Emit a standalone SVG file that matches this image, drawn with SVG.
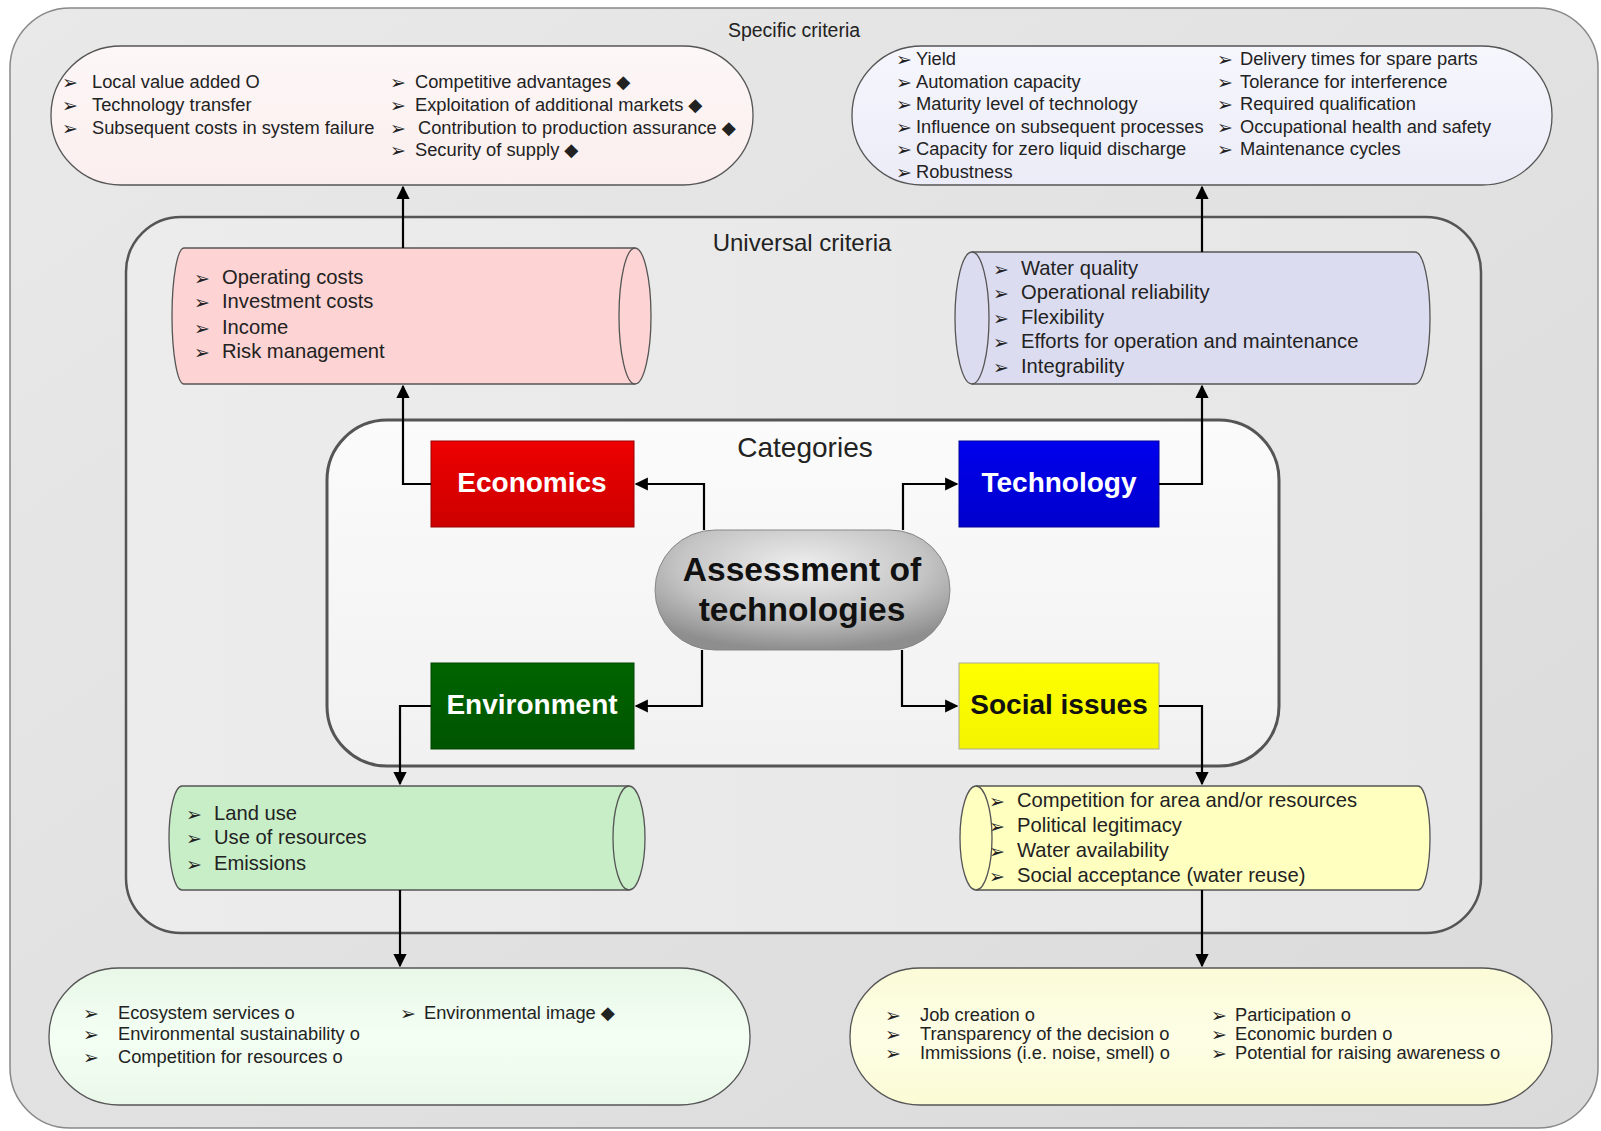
<svg xmlns="http://www.w3.org/2000/svg" width="1601" height="1131" viewBox="0 0 1601 1131">
<defs>
<style>
.t{font-family:"Liberation Sans",Arial,"DejaVu Sans",sans-serif;fill:#222}
.s{font-size:18.3px}
.u{font-size:20.2px}
.b{font-family:"DejaVu Sans",sans-serif;font-size:19px;fill:#222}
.cat{font-family:"Liberation Sans",Arial,sans-serif;font-weight:bold;font-size:28px;text-anchor:middle}
.big{font-size:33.5px}
.edge{fill:none;stroke:#000;stroke-width:2.2;marker-end:url(#ah)}
.box{stroke:#555;stroke-width:1.3}
</style>
<marker id="ah" viewBox="0 0 10 10" refX="9" refY="5" markerWidth="6" markerHeight="6" orient="auto" markerUnits="strokeWidth">
<path d="M0,0 L10,5 L0,10 z" fill="#000"/>
</marker>
<linearGradient id="gOuter" x1="0" y1="0" x2="1" y2="1"><stop offset="0" stop-color="#e9e9e9"/><stop offset="1" stop-color="#dadada"/></linearGradient>
<linearGradient id="gUni" x1="0" y1="0" x2="1" y2="0"><stop offset="0" stop-color="#ececec"/><stop offset="1" stop-color="#e6e6e6"/></linearGradient>
<linearGradient id="gCat" x1="0" y1="0" x2="0" y2="1"><stop offset="0" stop-color="#fbfbfb"/><stop offset="1" stop-color="#f1f1f1"/></linearGradient>
<linearGradient id="gTL" x1="0" y1="0" x2="0" y2="1"><stop offset="0" stop-color="#fdf7f7"/><stop offset="1" stop-color="#fbeeee"/></linearGradient>
<linearGradient id="gTR" x1="0" y1="0" x2="0" y2="1"><stop offset="0" stop-color="#f6f6fd"/><stop offset="1" stop-color="#ececf8"/></linearGradient>
<linearGradient id="gBL" x1="0" y1="0" x2="0" y2="1"><stop offset="0" stop-color="#e8f7e8"/><stop offset="0.5" stop-color="#f3fff3"/><stop offset="1" stop-color="#eaf8ea"/></linearGradient>
<linearGradient id="gBR" x1="0" y1="0" x2="0" y2="1"><stop offset="0" stop-color="#fbfbd8"/><stop offset="0.5" stop-color="#fefee6"/><stop offset="1" stop-color="#fbfbd5"/></linearGradient>
<linearGradient id="gRed" x1="0" y1="0" x2="0" y2="1"><stop offset="0" stop-color="#ee0000"/><stop offset="1" stop-color="#cc0000"/></linearGradient>
<linearGradient id="gBlue" x1="0" y1="0" x2="0" y2="1"><stop offset="0" stop-color="#0000ee"/><stop offset="1" stop-color="#0000cc"/></linearGradient>
<linearGradient id="gGreen" x1="0" y1="0" x2="0" y2="1"><stop offset="0" stop-color="#006400"/><stop offset="1" stop-color="#005500"/></linearGradient>
<linearGradient id="gYel" x1="0" y1="0" x2="0" y2="1"><stop offset="0" stop-color="#ffff00"/><stop offset="1" stop-color="#f4f400"/></linearGradient>
<radialGradient id="gAss" cx="0.5" cy="0.3" r="0.7"><stop offset="0" stop-color="#eeeeee"/><stop offset="0.6" stop-color="#c4c4c4"/><stop offset="1" stop-color="#8e8e8e"/></radialGradient>
</defs>

<g id="outer">
<rect x="10" y="8" width="1588" height="1120" rx="60" ry="60" fill="url(#gOuter)" stroke="#888" stroke-width="1.5"/>
<text class="t" x="794" y="37" font-size="19.5" text-anchor="middle">Specific criteria</text>
</g>

<g id="universal">
<rect x="126" y="217" width="1355" height="716" rx="55" ry="55" fill="url(#gUni)" stroke="#555" stroke-width="2.5"/>
<text class="t" x="802" y="251" font-size="24" text-anchor="middle">Universal criteria</text>
</g>

<g id="categories">
<rect x="327" y="420" width="952" height="346" rx="60" ry="60" fill="url(#gCat)" stroke="#555" stroke-width="3"/>
<text class="t" x="805" y="457" font-size="28" text-anchor="middle">Categories</text>
</g>

<g id="spec-econ">
<rect class="box" x="51" y="46" width="702" height="139" rx="70" ry="69" fill="url(#gTL)"/>
<g class="b"><text x="62" y="89">➢</text><text x="62" y="112">➢</text><text x="62" y="135">➢</text>
<text x="390" y="89">➢</text><text x="390" y="112">➢</text><text x="390" y="135">➢</text><text x="390" y="157">➢</text></g>
<g class="t s">
<text x="92" y="88">Local value added O</text>
<text x="92" y="111">Technology transfer</text>
<text x="92" y="134">Subsequent costs in system failure</text>
<text x="415" y="88">Competitive advantages ◆</text>
<text x="415" y="111">Exploitation of additional markets ◆</text>
<text x="418" y="134">Contribution to production assurance ◆</text>
<text x="415" y="156">Security of supply ◆</text>
</g>
</g>

<g id="spec-tech">
<rect class="box" x="852" y="46" width="700" height="139" rx="70" ry="69" fill="url(#gTR)"/>
<g class="b"><text x="896" y="66">➢</text><text x="896" y="89">➢</text><text x="896" y="111">➢</text><text x="896" y="134">➢</text><text x="896" y="156">➢</text><text x="896" y="179">➢</text>
<text x="1217" y="66">➢</text><text x="1217" y="89">➢</text><text x="1217" y="111">➢</text><text x="1217" y="134">➢</text><text x="1217" y="156">➢</text></g>
<g class="t s">
<text x="916" y="65">Yield</text>
<text x="916" y="88">Automation capacity</text>
<text x="916" y="110">Maturity level of technology</text>
<text x="916" y="133">Influence on subsequent processes</text>
<text x="916" y="155">Capacity for zero liquid discharge</text>
<text x="916" y="178">Robustness</text>
<text x="1240" y="65">Delivery times for spare parts</text>
<text x="1240" y="88">Tolerance for interference</text>
<text x="1240" y="110">Required qualification</text>
<text x="1240" y="133">Occupational health and safety</text>
<text x="1240" y="155">Maintenance cycles</text>
</g>
</g>

<g id="spec-env">
<rect class="box" x="49" y="968" width="701" height="137" rx="70" ry="68" fill="url(#gBL)"/>
<g class="b"><text x="83" y="1020">➢</text><text x="83" y="1041">➢</text><text x="83" y="1064">➢</text><text x="400" y="1020">➢</text></g>
<g class="t s">
<text x="118" y="1019">Ecosystem services o</text>
<text x="118" y="1040">Environmental sustainability o</text>
<text x="118" y="1063">Competition for resources o</text>
<text x="424" y="1019">Environmental image ◆</text>
</g>
</g>

<g id="spec-social">
<rect class="box" x="850" y="968" width="702" height="137" rx="70" ry="68" fill="url(#gBR)"/>
<g class="b"><text x="885" y="1022">➢</text><text x="885" y="1041">➢</text><text x="885" y="1060">➢</text>
<text x="1211" y="1022">➢</text><text x="1211" y="1041">➢</text><text x="1211" y="1060">➢</text></g>
<g class="t s">
<text x="920" y="1021">Job creation o</text>
<text x="920" y="1040">Transparency of the decision o</text>
<text x="920" y="1059">Immissions (i.e. noise, smell) o</text>
<text x="1235" y="1021">Participation o</text>
<text x="1235" y="1040">Economic burden o</text>
<text x="1235" y="1059">Potential for raising awareness o</text>
</g>
</g>

<g id="uni-econ">
<path class="box" d="M184,248 L635,248 A16,68 0 0,1 635,384 L184,384 A12,68 0 0,1 184,248 Z" fill="#fdd3d3"/>
<path class="box" d="M635,248 A16,68 0 0,0 635,384" fill="none"/>
<g class="b"><text x="194" y="285">➢</text><text x="194" y="309">➢</text><text x="194" y="335">➢</text><text x="194" y="359">➢</text></g>
<g class="t u">
<text x="222" y="284">Operating costs</text>
<text x="222" y="308">Investment costs</text>
<text x="222" y="334">Income</text>
<text x="222" y="358">Risk management</text>
</g>
</g>

<g id="uni-tech">
<path class="box" d="M972,252 L1415,252 A15,66 0 0,1 1415,384 L972,384 A17,66 0 0,1 972,252 Z" fill="#dcdcf0"/>
<path class="box" d="M972,252 A17,66 0 0,1 972,384" fill="none"/>
<g class="b"><text x="993" y="276">➢</text><text x="993" y="300">➢</text><text x="993" y="325">➢</text><text x="993" y="349">➢</text><text x="993" y="374">➢</text></g>
<g class="t u">
<text x="1021" y="275">Water quality</text>
<text x="1021" y="299">Operational reliability</text>
<text x="1021" y="324">Flexibility</text>
<text x="1021" y="348">Efforts for operation and maintenance</text>
<text x="1021" y="373">Integrability</text>
</g>
</g>

<g id="uni-env">
<path class="box" d="M182,786 L629,786 A16,52 0 0,1 629,890 L182,890 A13,52 0 0,1 182,786 Z" fill="#c8eec8"/>
<path class="box" d="M629,786 A16,52 0 0,0 629,890" fill="none"/>
<g class="b"><text x="186" y="821">➢</text><text x="186" y="845">➢</text><text x="186" y="871">➢</text></g>
<g class="t u">
<text x="214" y="820">Land use</text>
<text x="214" y="844">Use of resources</text>
<text x="214" y="870">Emissions</text>
</g>
</g>

<g id="uni-social">
<path class="box" d="M976,786 L1418,786 A12,52 0 0,1 1418,890 L976,890 A16,52 0 0,1 976,786 Z" fill="#ffffc0"/>
<path class="box" d="M976,786 A16,52 0 0,1 976,890" fill="none"/>
<g class="b"><text x="989" y="808">➢</text><text x="989" y="833">➢</text><text x="989" y="858">➢</text><text x="989" y="883">➢</text></g>
<g class="t u">
<text x="1017" y="807">Competition for area and/or resources</text>
<text x="1017" y="832">Political legitimacy</text>
<text x="1017" y="857">Water availability</text>
<text x="1017" y="882">Social acceptance (water reuse)</text>
</g>
</g>

<g id="economics">
<rect x="431" y="441" width="203" height="86" fill="url(#gRed)" stroke="#900" stroke-width="1"/>
<text class="cat" x="532" y="492" fill="#fff">Economics</text>
</g>
<g id="technology">
<rect x="959" y="441" width="200" height="86" fill="url(#gBlue)" stroke="#009" stroke-width="1"/>
<text class="cat" x="1059" y="492" fill="#fff">Technology</text>
</g>
<g id="environment">
<rect x="431" y="663" width="203" height="86" fill="url(#gGreen)" stroke="#040" stroke-width="1"/>
<text class="cat" x="532" y="714" fill="#fff">Environment</text>
</g>
<g id="social">
<rect x="959" y="663" width="200" height="86" fill="url(#gYel)" stroke="#aa9" stroke-width="1"/>
<text class="cat" x="1059" y="714" fill="#111">Social issues</text>
</g>

<g id="assessment">
<rect x="655" y="530" width="295" height="120" rx="60" ry="60" fill="url(#gAss)" stroke="#888" stroke-width="1"/>
<text class="cat big" x="802" y="581" fill="#111">Assessment of</text>
<text class="cat big" x="802" y="621" fill="#111">technologies</text>
</g>

<g id="connectors">
<path class="edge" d="M704,530 L704,484 L636,484"/>
<path class="edge" d="M903,530 L903,484 L957,484"/>
<path class="edge" d="M702,650 L702,706 L636,706"/>
<path class="edge" d="M902,650 L902,706 L957,706"/>
<path class="edge" d="M431,484 L403,484 L403,386"/>
<path class="edge" d="M1159,484 L1202,484 L1202,386"/>
<path class="edge" d="M431,706 L400,706 L400,784"/>
<path class="edge" d="M1159,706 L1202,706 L1202,784"/>
<path class="edge" d="M403,248 L403,187"/>
<path class="edge" d="M1202,252 L1202,187"/>
<path class="edge" d="M400,890 L400,966"/>
<path class="edge" d="M1202,890 L1202,966"/>
</g>
</svg>
